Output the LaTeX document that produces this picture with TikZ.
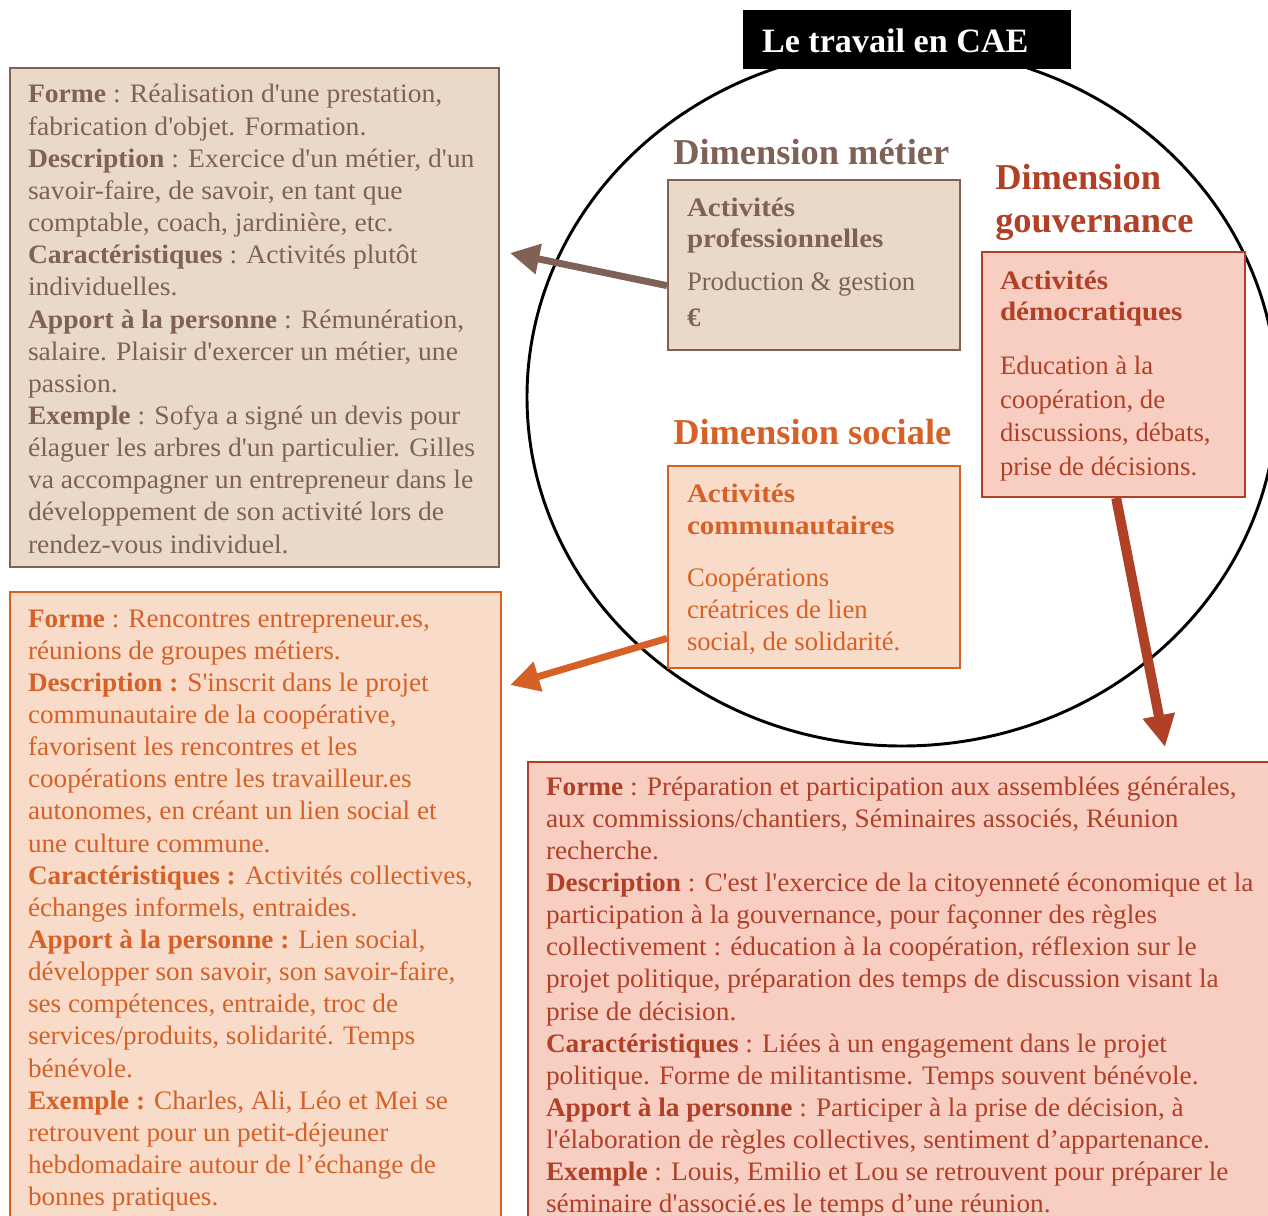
\documentclass[tikz,border=0pt]{standalone}
\usepackage{fontspec}
\setmainfont{Liberation Serif}[Ligatures=TeXOff]
\usepackage{graphicx}
\usetikzlibrary{arrows.meta,calc,fit}
\definecolor{brownT}{RGB}{128,97,86}
\definecolor{brownF}{RGB}{232,217,200}
\definecolor{orangeT}{RGB}{214,96,38}
\definecolor{orangeF}{RGB}{249,219,201}
\definecolor{redT}{RGB}{176,64,38}
\definecolor{redF}{RGB}{248,205,194}
\newcommand{\txtblock}[4]{\scalebox{#1}[1]{\parbox[t]{#2}{\fontsize{#3}{24.11}\selectfont #4}}}
\begin{document}
\begin{tikzpicture}[x=0.75pt,y=-0.75pt,
  txt/.style={anchor=base west, inner sep=0pt, outer sep=0pt},
  boxB/.style={draw=brownT, fill=brownF, line width=1.5pt, inner sep=0pt},
  boxO/.style={draw=orangeT, fill=orangeF, line width=1.5pt, inner sep=0pt},
  boxR/.style={draw=redT, fill=redF, line width=1.5pt, inner sep=0pt},
  dimlabel/.style={anchor=base west, inner sep=0pt, font=\fontsize{27.3}{30}\selectfont\bfseries},
  bigarrow/.style={line width=#1, -{Triangle[length=22pt,width=22pt]}},
]
\clip (0,0) rectangle (1268,1216);
\fill[white] (0,0) rectangle (1268,1216);

% circle (ellipse)
\draw[line width=2.2pt] (902,397) ellipse [x radius=375, y radius=349];

% title
\node[fill=black, inner sep=0pt, fit={(743,10) (1071,69)}] (title) {};
\node[txt, text=white, font=\fontsize{25.6}{28}\selectfont\bfseries] (titletxt) at (762,53) {Le travail en CAE};

% dimension labels
\node[dimlabel, text=brownT] (dmetier) at (673,165) {Dimension métier};
\node[dimlabel, text=redT] (dgouv) at (995,190) {Dimension};
\node[dimlabel, text=redT] (dgouv2) at (995,233) {gouvernance};
\node[dimlabel, text=orangeT] (dsociale) at (673,444) {Dimension sociale};

% small boxes
\node[boxB, fit={(668,180) (960,350)}] (metier) {};
\node[txt, text=brownT] (metierh) at (687,217) {\txtblock{1.09}{300pt}{20}{\bfseries\baselineskip=23.25pt Activités\\professionnelles}};
\node[txt, text=brownT] (metierb) at (687,291) {\txtblock{1.0}{300pt}{20}{\baselineskip=27pt Production \& gestion\\\textbf{€}}};

\node[boxR, fit={(982,252) (1245,497)}] (gouv) {};
\node[txt, text=redT] (gouvh) at (1000,290) {\txtblock{1.09}{300pt}{20}{\bfseries\baselineskip=23.25pt Activités\\démocratiques}};
\node[txt, text=redT] (gouvb) at (1000,374) {\txtblock{1.005}{300pt}{20}{\baselineskip=25.5pt Education à la\\coopération, de\\discussions, débats,\\prise de décisions.}};

\node[boxO, fit={(668,466) (960,668)}] (sociale) {};
\node[txt, text=orangeT] (socialeh) at (687,502) {\txtblock{1.09}{300pt}{20}{\bfseries\baselineskip=24pt Activités\\communautaires}};
\node[txt, text=orangeT] (socialeb) at (687,586) {\txtblock{1.0}{300pt}{20}{\baselineskip=24pt Coopérations\\créatrices de lien\\social, de solidarité.}};

% big boxes
\node[boxB, fit={(10,68) (499,567)}] (btop) {};
\node[txt, text=brownT] (btoptxt) at (28,103) {\txtblock{1.035}{600pt}{20}{%
\textbf{Forme} : Réalisation d'une prestation,\\
fabrication d'objet. Formation.\\
\textbf{Description} : Exercice d'un métier, d'un\\
savoir-faire, de savoir, en tant que\\
comptable, coach, jardinière, etc.\\
\textbf{Caractéristiques} : Activités plutôt\\
individuelles.\\
\textbf{Apport à la personne} : Rémunération,\\
salaire. Plaisir d'exercer un métier, une\\
passion.\\
\textbf{Exemple} : Sofya a signé un devis pour\\
élaguer les arbres d'un particulier. Gilles\\
va accompagner un entrepreneur dans le\\
développement de son activité lors de\\
rendez-vous individuel.}};

\node[boxO, fit={(10,592) (501,1240)}] (bleft) {};
\node[txt, text=orangeT] (blefttxt) at (28,627) {\txtblock{1.02}{600pt}{20}{%
\textbf{Forme} : Rencontres entrepreneur.es,\\
réunions de groupes métiers.\\
\textbf{Description :} S'inscrit dans le projet\\
communautaire de la coopérative,\\
favorisent les rencontres et les\\
coopérations entre les travailleur.es\\
autonomes, en créant un lien social et\\
une culture commune.\\
\textbf{Caractéristiques :} Activités collectives,\\
échanges informels, entraides.\\
\textbf{Apport à la personne :} Lien social,\\
développer son savoir, son savoir-faire,\\
ses compétences, entraide, troc de\\
services/produits, solidarité. Temps\\
bénévole.\\
\textbf{Exemple :} Charles, Ali, Léo et Mei se\\
retrouvent pour un petit-déjeuner\\
hebdomadaire autour de l’échange de\\
bonnes pratiques.}};

\node[boxR, fit={(528,762) (1290,1240)}] (bright) {};
\node[txt, text=redT] (brighttxt) at (546,795) {\txtblock{1.024}{900pt}{20}{%
\textbf{Forme} : Préparation et participation aux assemblées générales,\\
aux commissions/chantiers, Séminaires associés, Réunion\\
recherche.\\
\textbf{Description} : C'est l'exercice de la citoyenneté économique et la\\
participation à la gouvernance, pour façonner des règles\\
collectivement : éducation à la coopération, réflexion sur le\\
projet politique, préparation des temps de discussion visant la\\
prise de décision.\\
\textbf{Caractéristiques} : Liées à un engagement dans le projet\\
politique. Forme de militantisme. Temps souvent bénévole.\\
\textbf{Apport à la personne} : Participer à la prise de décision, à\\
l'élaboration de règles collectives, sentiment d’appartenance.\\
\textbf{Exemple} : Louis, Emilio et Lou se retrouvent pour préparer le\\
séminaire d'associé.es le temps d’une réunion.}};

% arrows
\coordinate (tipB) at (510,253);
\coordinate (tipO) at (510,685);
\coordinate (tipR) at (1165,747);
\draw[bigarrow=5.2pt, draw=brownT, fill=brownT] ($(metier.north west)!0.62!(metier.south west)$) -- (tipB);
\draw[bigarrow=5.2pt, draw=orangeT, fill=orangeT] ($(sociale.north west)!0.85!(sociale.south west)$) -- (tipO);
\draw[line width=7.5pt, draw=redT, -{Triangle[length=24pt,width=23pt]}] ($(gouv.south west)!0.51!(gouv.south east)$) -- (tipR);
\end{tikzpicture}
\end{document}
